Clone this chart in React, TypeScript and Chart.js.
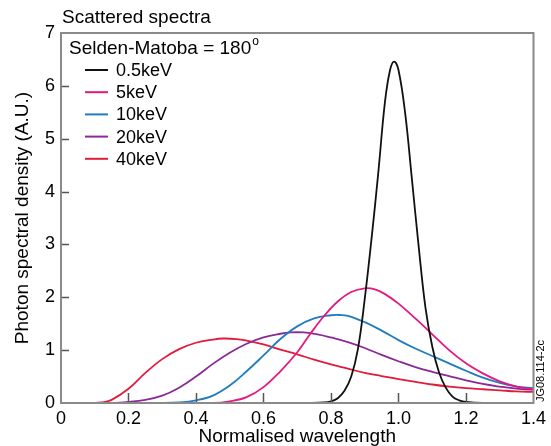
import React, { useEffect, useRef } from "react";
import { Chart, registerables } from "chart.js";

Chart.register(...registerables);

// ---- chart texts ----
const chartTitle = "Scattered spectra";
const legendHeader = "Selden-Matoba = 180";
const legendHeaderSup = "o";
const xAxisTitle = "Normalised wavelength";
const yAxisTitle = "Photon spectral density (A.U.)";
const figureCode = "JG08.114-2c";

// ---- series ----
const seriesLabels = ["0.5keV", "5keV", "10keV", "20keV", "40keV"];
const seriesColors = ["#111111", "#e3197f", "#1f7cc0", "#8b2a97", "#e21b3b"];

const x05 = [0, 0.7, 0.78, 0.8, 0.82, 0.84, 0.86, 0.88, 0.9, 0.92, 0.94, 0.96, 0.975, 0.987, 1.0, 1.02, 1.04, 1.06, 1.08, 1.1, 1.12, 1.14, 1.16, 1.18, 1.2, 1.25, 1.4];
const y05 = [0, 0, 0.01, 0.03, 0.09, 0.23, 0.5, 1.03, 1.97, 3.1, 4.35, 5.7, 6.3, 6.46, 6.3, 5.47, 4.22, 2.95, 1.8, 1.07, 0.58, 0.29, 0.12, 0.05, 0.02, 0, 0];

const x5 = [0, 0.45, 0.5, 0.55, 0.6, 0.65, 0.7, 0.74, 0.78, 0.82, 0.86, 0.9, 0.93, 0.96, 1.0, 1.05, 1.1, 1.15, 1.2, 1.25, 1.3, 1.35, 1.4];
const y5 = [0, 0, 0.03, 0.11, 0.3, 0.6, 0.96, 1.32, 1.65, 1.92, 2.1, 2.17, 2.15, 2.06, 1.88, 1.6, 1.3, 1.0, 0.75, 0.56, 0.41, 0.31, 0.26];

const x10 = [0, 0.3, 0.35, 0.4, 0.45, 0.5, 0.55, 0.6, 0.65, 0.7, 0.75, 0.8, 0.825, 0.85, 0.9, 0.95, 1.0, 1.05, 1.1, 1.15, 1.2, 1.25, 1.3, 1.35, 1.4];
const y10 = [0, 0, 0.01, 0.05, 0.14, 0.33, 0.6, 0.9, 1.21, 1.45, 1.6, 1.66, 1.665, 1.65, 1.53, 1.37, 1.19, 1.03, 0.89, 0.75, 0.61, 0.48, 0.38, 0.31, 0.28];

const x20 = [0, 0.15, 0.2, 0.25, 0.3, 0.35, 0.4, 0.45, 0.5, 0.55, 0.6, 0.65, 0.68, 0.72, 0.76, 0.8, 0.85, 0.9, 0.95, 1.0, 1.05, 1.1, 1.15, 1.2, 1.25, 1.3, 1.35, 1.4];
const y20 = [0, 0, 0.02, 0.06, 0.14, 0.29, 0.5, 0.74, 0.95, 1.12, 1.24, 1.31, 1.335, 1.335, 1.3, 1.24, 1.15, 1.04, 0.91, 0.79, 0.68, 0.59, 0.51, 0.43, 0.36, 0.31, 0.27, 0.25];

const x40 = [0, 0.1, 0.12, 0.15, 0.2, 0.25, 0.3, 0.35, 0.4, 0.45, 0.48, 0.52, 0.55, 0.6, 0.65, 0.7, 0.75, 0.8, 0.85, 0.9, 0.95, 1.0, 1.05, 1.1, 1.15, 1.2, 1.25, 1.3, 1.35, 1.4];
const y40 = [0, 0, 0.01, 0.06, 0.27, 0.57, 0.83, 1.02, 1.14, 1.2, 1.22, 1.21, 1.18, 1.11, 1.01, 0.92, 0.82, 0.73, 0.65, 0.57, 0.51, 0.45, 0.4, 0.35, 0.31, 0.28, 0.26, 0.24, 0.22, 0.21];

const seriesX = [x05, x5, x10, x20, x40];
const seriesY = [y05, y5, y10, y20, y40];

// ---- axes ----
const xTicks = [0, 0.2, 0.4, 0.6, 0.8, 1.0, 1.2, 1.4];
const yTicks = [0, 1, 2, 3, 4, 5, 6, 7];

const FONT = "'Liberation Sans', Arial, Helvetica, sans-serif";

const decorPlugin = {
  id: "decor",
  afterDatasetsDraw(chart: any) {
    const { ctx, chartArea } = chart;
    const { left, right, top, bottom } = chartArea;
    const xs = chart.scales.x;
    const ys = chart.scales.y;
    ctx.save();
    // inward tick marks
    ctx.strokeStyle = "#555555";
    ctx.lineWidth = 1.5;
    ctx.beginPath();
    xTicks.slice(1, -1).forEach((v) => {
      const px = Math.round(xs.getPixelForValue(v)) + 0.5;
      ctx.moveTo(px, bottom);
      ctx.lineTo(px, bottom - 10);
    });
    yTicks.slice(1, -1).forEach((v) => {
      const py = Math.round(ys.getPixelForValue(v)) + 0.5;
      ctx.moveTo(left, py);
      ctx.lineTo(left + 8, py);
    });
    ctx.stroke();
    // frame
    ctx.strokeStyle = "#8a8a8a";
    ctx.lineWidth = 2;
    ctx.strokeRect(left, top, right - left, bottom - top);
    ctx.restore();
  },
  afterDraw(chart: any) {
    const { ctx, chartArea } = chart;
    const { left, right, bottom } = chartArea;
    ctx.save();
    ctx.fillStyle = "#000";
    ctx.textBaseline = "middle";
    ctx.textAlign = "left";
    // title
    ctx.font = `19px ${FONT}`;
    ctx.fillText(chartTitle, left + 1, 18);
    // legend header
    ctx.font = `19px ${FONT}`;
    ctx.fillText(legendHeader, left + 8, 49);
    const w = ctx.measureText(legendHeader).width;
    ctx.font = `12px ${FONT}`;
    ctx.fillText(legendHeaderSup, left + 9 + w, 42);
    // legend items
    ctx.font = `18px ${FONT}`;
    chart.data.datasets.forEach((ds: any, i: number) => {
      const y = 70 + i * 22.2;
      ctx.strokeStyle = ds.borderColor;
      ctx.lineWidth = 2;
      ctx.beginPath();
      ctx.moveTo(left + 24, y);
      ctx.lineTo(left + 47, y);
      ctx.stroke();
      ctx.fillText(ds.label, left + 55, y + 1);
    });
    // figure code
    ctx.font = `11px ${FONT}`;
    ctx.translate(right + 7, bottom - 32);
    ctx.rotate(-Math.PI / 2);
    ctx.textAlign = "center";
    ctx.fillText(figureCode, 0, 0);
    ctx.restore();
  },
};

export default function App() {
  const canvasRef = useRef<HTMLCanvasElement | null>(null);

  useEffect(() => {
    if (!canvasRef.current) return;
    Chart.defaults.font.family = FONT;
    Chart.defaults.color = "#000";
    const datasets = seriesLabels.map((label, i) => ({
      label,
      data: seriesX[i].map((x, j) => ({ x, y: seriesY[i][j] })),
      borderColor: seriesColors[i],
      backgroundColor: seriesColors[i],
      borderWidth: 1.8,
      pointRadius: 0,
      tension: 0.4,
      fill: false,
      clip: false as any,
    }));
    const chart = new Chart(canvasRef.current, {
      type: "line",
      data: { datasets },
      options: {
        animation: false,
        responsive: false,
        devicePixelRatio: 1,
        layout: { padding: { left: 0, right: 14, top: 33, bottom: 0 } },
        plugins: {
          legend: { display: false },
          title: { display: false },
          tooltip: { enabled: false },
        },
        scales: {
          x: {
            type: "linear",
            min: 0,
            max: 1.4,
            grid: { display: false, drawTicks: false },
            border: { display: false },
            afterBuildTicks: (scale: any) => {
              scale.ticks = xTicks.map((v) => ({ value: v }));
            },
            afterFit: (scale: any) => {
              scale.height = 43;
            },
            ticks: {
              padding: 5,
              maxRotation: 0,
              autoSkip: false,
              font: { size: 18, family: FONT },
              color: "#000",
              callback: (v: any) => (Number(v) === 0 ? "0" : Number(v).toFixed(1)),
            },
            title: {
              display: true,
              text: xAxisTitle,
              color: "#000",
              font: { size: 19, family: FONT, lineHeight: 1 },
              padding: { top: 0, bottom: 0 },
            },
          },
          y: {
            type: "linear",
            min: 0,
            max: 7,
            grid: { display: false, drawTicks: false },
            border: { display: false },
            afterBuildTicks: (scale: any) => {
              scale.ticks = yTicks.map((v) => ({ value: v }));
            },
            afterFit: (scale: any) => {
              scale.width = 61;
            },
            ticks: {
              padding: 6,
              autoSkip: false,
              font: { size: 18, family: FONT },
              color: "#000",
              callback: (v: any) => String(v),
            },
            title: {
              display: true,
              text: yAxisTitle,
              color: "#000",
              font: { size: 19, family: FONT, lineHeight: 1 },
              padding: { top: 13, bottom: 0 },
            },
          },
        },
      },
      plugins: [decorPlugin],
    });
    return () => chart.destroy();
  }, []);

  return (
    <div style={{ position: "fixed", left: 0, top: 0, width: 551, height: 446, background: "#fff" }}>
      <canvas ref={canvasRef} width={551} height={446} style={{ display: "block" }} />
    </div>
  );
}
